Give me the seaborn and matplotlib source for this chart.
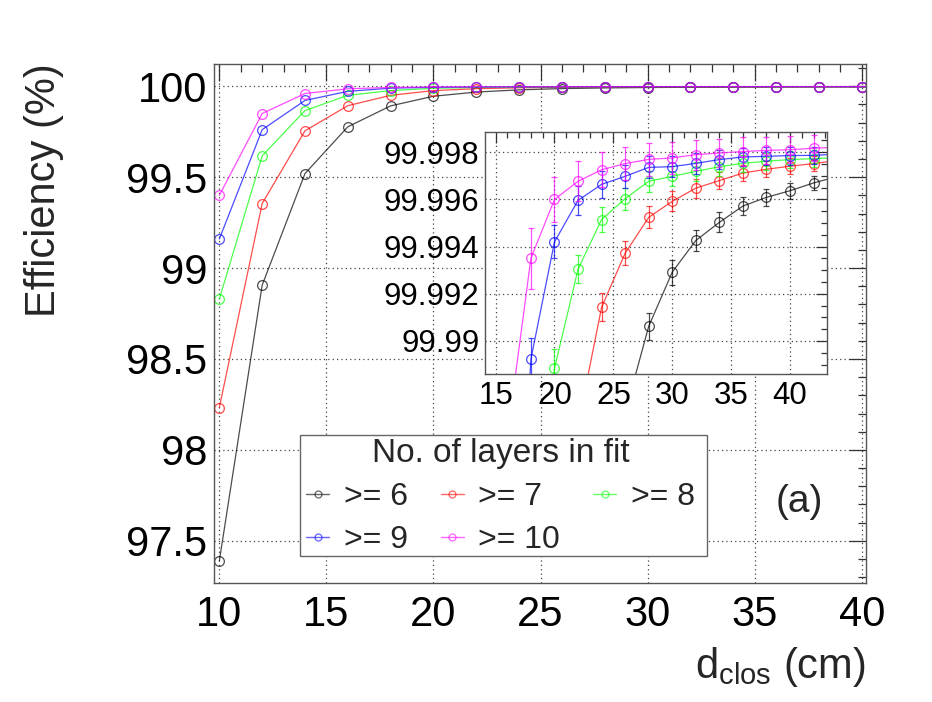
import matplotlib
matplotlib.use("Agg")
import matplotlib.pyplot as plt
from matplotlib.patches import Rectangle
from matplotlib.lines import Line2D
from matplotlib.ticker import MultipleLocator, FuncFormatter
import seaborn as sns
import numpy as np
import pandas as pd

# distance of closest approach (cm)
d_clos = [10, 12, 14, 16, 18, 20, 22, 24, 26, 28, 30, 32, 34, 36, 38, 40, 42, 44]

# efficiency (%) for minimum number of layers in the fit
eff_6 = [97.39, 98.906, 99.52, 99.777, 99.892, 99.945, 99.968, 99.980, 99.98695,
         99.99062, 99.99292, 99.99426, 99.99503, 99.99572, 99.99609, 99.99637, 99.99670, 99.99697]
eff_7 = [98.233, 99.355, 99.755, 99.893, 99.950, 99.976, 99.98642, 99.99143, 99.99372,
         99.99524, 99.99592, 99.99648, 99.99680, 99.99712, 99.99728, 99.99741, 99.99752, 99.99766]
eff_8 = [98.83, 99.617, 99.866, 99.950, 99.976, 99.98884, 99.99304, 99.99515, 99.99603,
         99.99677, 99.99698, 99.99719, 99.99739, 99.99753, 99.99762, 99.99769, 99.99773, 99.99777]
eff_9 = [99.16, 99.761, 99.922, 99.972, 99.98924, 99.9942, 99.99596, 99.99664, 99.99698,
         99.99736, 99.99739, 99.99753, 99.99769, 99.99780, 99.99783, 99.99786, 99.99787, 99.99792]
eff_10 = [99.40, 99.85, 99.96, 99.98596, 99.99351, 99.996, 99.99677, 99.99726, 99.99752,
          99.9977, 99.99776, 99.9979, 99.99797, 99.99803, 99.99808, 99.99811, 99.99817, 99.99822]

# statistical errors (%)
err_6 = [0.004, 0.003, 0.002, 0.0015, 0.0012, 0.001, 0.0009, 0.0008, 0.0007,
         0.00058, 0.00053, 0.00046, 0.00042, 0.0004, 0.00037, 0.00033, 0.00031, 0.0003]
err_7 = [0.004, 0.003, 0.002, 0.0015, 0.0012, 0.001, 0.0008, 0.0006, 0.0005,
         0.00047, 0.00042, 0.0004, 0.00036, 0.00035, 0.00034, 0.00033, 0.00032, 0.0003]
err_8 = [0.004, 0.003, 0.002, 0.0015, 0.001, 0.0008, 0.0006, 0.00055, 0.00047,
         0.00045, 0.00043, 0.0004, 0.00038, 0.00037, 0.00036, 0.00035, 0.00035, 0.00034]
err_9 = [0.004, 0.003, 0.002, 0.0012, 0.0009, 0.0007, 0.0006, 0.00057, 0.0005,
         0.00047, 0.00045, 0.00043, 0.0004, 0.0004, 0.00039, 0.00038, 0.00037, 0.00036]
err_10 = [0.004, 0.003, 0.002, 0.0015, 0.0013, 0.00095, 0.00085, 0.00075, 0.0007,
          0.00069, 0.00066, 0.00063, 0.0006, 0.0006, 0.00058, 0.00057, 0.00056, 0.00055]

labels = [">= 6", ">= 7", ">= 8", ">= 9", ">= 10"]
colors = ["#000000", "#ff0000", "#00ff00", "#0000ff", "#ff00ff"]

frames = []
for lab, e, s in zip(labels, [eff_6, eff_7, eff_8, eff_9, eff_10],
                     [err_6, err_7, err_8, err_9, err_10]):
    frames.append(pd.DataFrame({"d": d_clos, "eff": e, "err": s, "layers": lab}))
df = pd.concat(frames, ignore_index=True)

sns.set_theme(style="white")
plt.rcParams["font.family"] = ["Liberation Sans", "DejaVu Sans"]
plt.rcParams["mathtext.default"] = "regular"

W, H = 932, 702
fig = plt.figure(figsize=(W / 100, H / 100), dpi=100)
ax = fig.add_axes([214 / W, 1 - 583 / H, (866 - 214) / W, (583 - 63.5) / H])
ins = fig.add_axes([485 / W, 1 - 374 / H, (827 - 485) / W, (374 - 132) / H])


def draw(a, ms, with_err=True):
    for lab, col in zip(labels, colors):
        sub = df[df.layers == lab]
        if with_err:
            a.errorbar(sub.d, sub.eff, yerr=sub.err, fmt="none", ecolor=col,
                       elinewidth=0.9, capsize=2, capthick=0.9, alpha=0.7)
        sns.lineplot(data=sub, x="d", y="eff", ax=a, color=col, lw=0.9, alpha=0.7,
                     marker="o", ms=ms, mfc="none", mec=col, mew=0.9,
                     legend=False, errorbar=None, sort=False)


def style(a, lsize, ylen, xpad, ypad):
    a.set_xlabel("")
    a.set_ylabel("")
    a.grid(True, which="major", ls=(0, (1, 2.5)), color="#444", lw=0.9)
    a.set_axisbelow(True)
    for sp in a.spines.values():
        sp.set_color("#555")
        sp.set_linewidth(1)
    a.tick_params(which="both", direction="in", top=True, right=True,
                  colors="#333", labelcolor="black", labelsize=lsize, width=0.9)
    a.tick_params(which="major", length=ylen)
    a.tick_params(which="minor", length=ylen / 2)
    a.tick_params(axis="x", pad=xpad)
    a.tick_params(axis="y", pad=ypad)


# main view: error bars are smaller than the markers here
draw(ax, 7, with_err=False)
ax.set_xlim(9.75, 40.2)
ax.set_ylim(97.268, 100.125)
ax.xaxis.set_major_locator(MultipleLocator(5))
ax.xaxis.set_minor_locator(MultipleLocator(1))
ax.yaxis.set_major_locator(MultipleLocator(0.5))
ax.yaxis.set_minor_locator(MultipleLocator(0.1))
ax.yaxis.set_major_formatter(FuncFormatter(lambda v, p: f"{v:g}"))
style(ax, 30, 12, 9, 5)

# zoomed inset
draw(ins, 7)
ins.set_xlim(14.1, 43.14)
ins.set_ylim(99.9886, 99.99886)
ins.xaxis.set_major_locator(MultipleLocator(5))
ins.xaxis.set_minor_locator(MultipleLocator(1))
ins.yaxis.set_major_locator(MultipleLocator(0.002))
ins.yaxis.set_minor_locator(MultipleLocator(0.0005))
ins.yaxis.set_major_formatter(FuncFormatter(lambda v, p: f"{v:.3f}".rstrip("0")))
style(ins, 22.5, 8, 5, 4)
ins.set_facecolor("white")

fig.text(44 / W, 1 - 63 / H, "Efficiency (%)", rotation=90, ha="center", va="top", fontsize=30)
fig.text(866 / W, 1 - 678 / H, "d$_{clos}$ (cm)", ha="right", va="baseline", fontsize=30)
fig.text(799 / W, 1 - 502 / H, "(a)", ha="center", va="center", fontsize=28)

# legend box
fig.patches.append(Rectangle((300 / W, 1 - 556 / H), 407 / W, 121 / H,
                             transform=fig.transFigure, facecolor="white",
                             edgecolor="#666", lw=1, zorder=3))
handles = [Line2D([], [], color=c, lw=1, alpha=0.6, marker="o", ms=5,
                  mfc="none", mec=c, mew=0.9) for c in colors]
order = [0, 3, 1, 4, 2]
fig.legend([handles[i] for i in order], [labels[i] for i in order],
           title="No. of layers in fit", title_fontsize=24, fontsize=23,
           ncol=3, frameon=False, loc="upper left",
           bbox_to_anchor=(303 / W, 1 - 435 / H), borderaxespad=0, borderpad=0.1,
           handlelength=0.72, handletextpad=0.45, columnspacing=1.04,
           labelspacing=0.41)

fig.savefig("out.png", dpi=100, facecolor="white")
